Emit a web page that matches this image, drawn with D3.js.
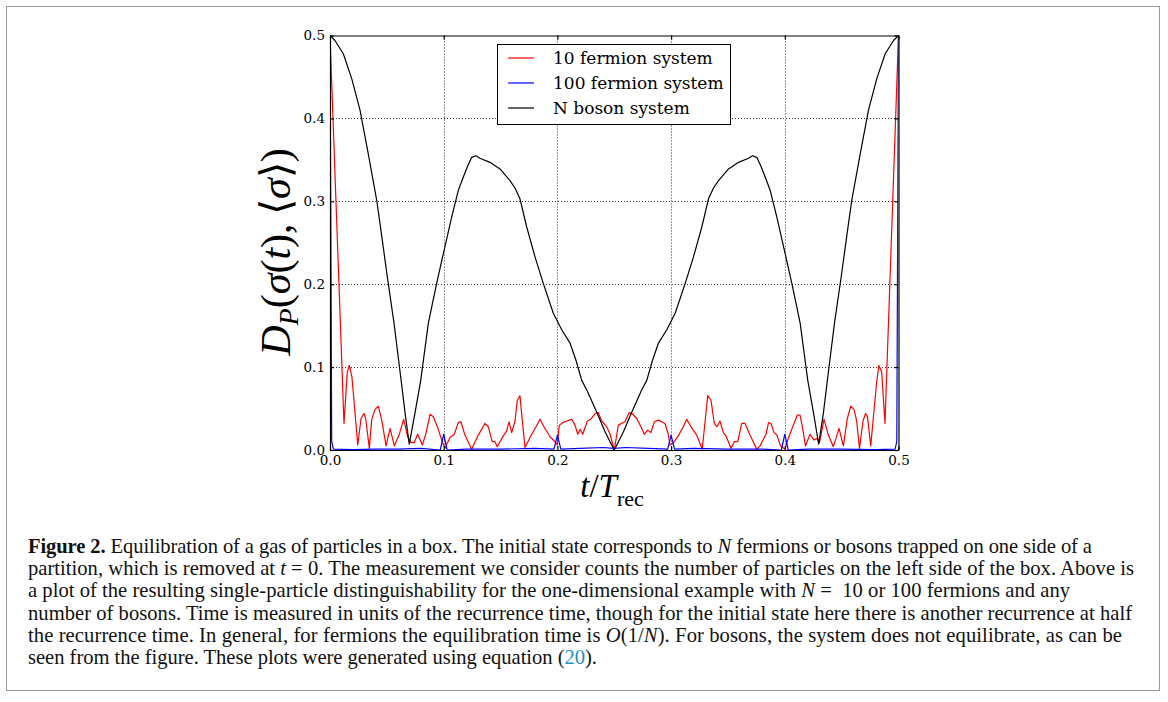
<!DOCTYPE html>
<html><head><meta charset="utf-8">
<script src="https://cdn.jsdelivr.net/npm/d3@7"></script>
<style>body{margin:0;background:#fff} svg{display:block}</style>
</head><body>
<svg id="c" width="1168" height="702"></svg>
<script>
// ---------------- data ----------------
const xTickValues = [0.0, 0.1, 0.2, 0.3, 0.4, 0.5];
const yTickValues = [0.0, 0.1, 0.2, 0.3, 0.4, 0.5];
const seriesNames = ["10 fermion system", "100 fermion system", "N boson system"];
const seriesColors = ["#ff0000", "#0000ff", "#000000"];

const fermion10T = [0,0.0123,0.0152,0.0170,0.0193,0.0244,0.0273,0.0299,0.0314,0.0346,0.0367,0.0396,0.0425,0.0455,0.0493,0.0528,0.0566,0.0607,0.0648,0.0683,0.0712,0.0741,0.0771,0.0812,0.0842,0.0880,0.0909,0.0947,0.0982,0.1011,0.1055,0.1093,0.1128,0.1152,0.1187,0.1246,0.1304,0.1363,0.1392,0.1427,0.1451,0.1471,0.1524,0.1554,0.1574,0.1598,0.1627,0.1647,0.1671,0.1686,0.1715,0.1774,0.1812,0.1847,0.1882,0.1935,0.1979,0.1999,0.2017,0.2047,0.2082,0.2126,0.2155,0.2179,0.2199,0.2223,0.2263,0.2293,0.2331,0.2360,0.2390,0.2434,0.2463,0.2500,
0.2536,0.2595,0.2630,0.2656,0.2697,0.2735,0.2764,0.2794,0.2823,0.2852,0.2887,0.2946,0.2975,0.2990,0.3017,0.3063,0.3107,0.3137,0.3175,0.3225,0.3274,0.3322,0.3351,0.3380,0.3404,0.3430,0.3459,0.3483,0.3527,0.3556,0.3586,0.3621,0.3650,0.3694,0.3753,0.3782,0.3835,0.3857,0.3879,0.3905,0.3931,0.3962,0.4002,0.4028,0.4075,0.4110,0.4134,0.4156,0.4182,0.4222,0.4257,0.4283,0.4305,0.4345,0.4383,0.4427,0.4477,0.4515,0.4550,0.4580,0.4609,0.4632,0.4657,0.4688,0.4710,0.4727,0.4756,0.4778,0.4808,0.4828,0.4852,0.4881,0.5000];
const fermion10D = [0.500,0.032,0.094,0.102,0.088,0.006,0.038,0.044,0.038,0.002,0.037,0.049,0.053,0.036,0.005,0.026,0.005,0.018,0.037,0.016,0.009,0.009,0.019,0.006,0.019,0.043,0.040,0.027,0.012,0.002,0.015,0.019,0.033,0.034,0.018,0.001,0.018,0.032,0.028,0.010,0.010,0.004,0.017,0.023,0.034,0.021,0.035,0.060,0.0655,0.043,0.003,0.019,0.028,0.037,0.028,0.016,0.010,0.006,0.030,0.033,0.035,0.037,0.030,0.019,0.025,0.019,0.035,0.037,0.044,0.045,0.035,0.028,0.019,0.000,
0.030,0.034,0.045,0.044,0.038,0.028,0.019,0.024,0.021,0.034,0.036,0.032,0.019,0.006,0.008,0.017,0.028,0.037,0.028,0.018,0.001,0.0655,0.060,0.032,0.028,0.035,0.021,0.017,0.002,0.010,0.010,0.032,0.032,0.018,0.001,0.005,0.019,0.033,0.032,0.021,0.018,0.005,0.001,0.013,0.030,0.042,0.042,0.027,0.005,0.019,0.012,0.014,0.009,0.037,0.018,0.004,0.026,0.005,0.038,0.053,0.049,0.035,0.002,0.035,0.044,0.040,0.005,0.038,0.082,0.102,0.094,0.032,0.500];

const fermion100T = [0,0.0015,0.003,0.02,0.04,0.06,0.08,0.097,0.1,0.103,0.12,0.15,0.18,0.197,0.2,0.203,0.22,0.24,0.25,0.26,0.28,0.297,0.3,0.303,0.32,0.35,0.38,0.397,0.4,0.403,0.42,0.45,0.48,0.497,0.4985,0.5];
const fermion100D = [0.5,0.01,0.001,0.0005,0.001,0.001,0.002,0.0,0.019,0.0,0.001,0.001,0.002,0.001,0.018,0.001,0.002,0.003,0.002,0.003,0.002,0.001,0.018,0.001,0.002,0.001,0.001,0.0,0.019,0.0,0.001,0.001,0.0005,0.001,0.01,0.5];

const bosonT = [0,0.0044,0.0117,0.0191,0.0264,0.0337,0.0411,0.0440,0.0504,0.0563,0.0622,0.0660,0.0697,0.0748,0.0798,0.0865,0.0938,0.0997,0.1070,0.1128,0.1172,0.1209,0.1246,0.1284,0.1319,0.1407,0.1495,0.1583,0.1627,0.1671,0.1730,0.1803,0.1876,0.1964,0.2038,0.2111,0.2164,0.2214,0.2260,0.2348,0.2419,0.2463,0.2500,
0.2537,0.2581,0.2652,0.2740,0.2786,0.2836,0.2889,0.2962,0.3036,0.3124,0.3197,0.3270,0.3329,0.3373,0.3417,0.3505,0.3593,0.3681,0.3716,0.3754,0.3791,0.3828,0.3872,0.3930,0.4003,0.4062,0.4135,0.4202,0.4252,0.4298,0.4340,0.4378,0.4437,0.4496,0.4560,0.4589,0.4663,0.4736,0.4809,0.4883,0.4956,0.5000];
const bosonD = [0.500,0.494,0.478,0.448,0.410,0.357,0.301,0.273,0.209,0.153,0.088,0.045,0.007,0.045,0.084,0.153,0.201,0.237,0.281,0.313,0.329,0.342,0.353,0.355,0.352,0.347,0.339,0.325,0.316,0.303,0.269,0.233,0.201,0.165,0.145,0.129,0.108,0.084,0.072,0.045,0.022,0.010,0.000,
0.010,0.022,0.045,0.072,0.084,0.108,0.129,0.145,0.165,0.201,0.233,0.269,0.303,0.316,0.325,0.339,0.347,0.352,0.355,0.353,0.342,0.329,0.313,0.281,0.237,0.201,0.153,0.084,0.045,0.007,0.045,0.088,0.153,0.209,0.273,0.301,0.357,0.410,0.448,0.478,0.494,0.500];

const captionLines = [
  [["b","Figure 2."],["n"," Equilibration of a gas of particles in a box. The initial state corresponds to "],["i","N"],["n"," fermions or bosons trapped on one side of a"]],
  [["n","partition, which is removed at "],["i","t"],["n"," = 0. The measurement we consider counts the number of particles on the left side of the box. Above is"]],
  [["n","a plot of the resulting single-particle distinguishability for the one-dimensional example with "],["i","N"],["n"," =  10 or 100 fermions and any"]],
  [["n","number of bosons. Time is measured in units of the recurrence time, though for the initial state here there is another recurrence at half"]],
  [["n","the recurrence time. In general, for fermions the equilibration time is "],["i","O"],["n","(1/"],["i","N"],["n","). For bosons, the system does not equilibrate, as can be"]],
  [["n","seen from the figure. These plots were generated using equation ("],["c","20"],["n",")."]]
];
const captionEnds = [1092, 1134, 1070, 1132, 1122, 597];

// ---------------- drawing ----------------
const svg = d3.select("#c");
const L = 330, R = 898.5, T = 35.5, B = 450;
const x = d3.scaleLinear().domain([0, 0.5]).range([L, R]);
const y = d3.scaleLinear().domain([0, 0.5]).range([B, T]);

// outer box
svg.append("rect").attr("x", 6.5).attr("y", 6.5).attr("width", 1153).attr("height", 684)
  .attr("fill", "none").attr("stroke", "#9a9a9a").attr("stroke-width", 1);

// grid
const g = svg.append("g");
g.selectAll(".vg").data(xTickValues.slice(1, -1)).enter().append("line")
  .attr("x1", d => Math.round(x(d)) + 0.5).attr("x2", d => Math.round(x(d)) + 0.5)
  .attr("y1", T).attr("y2", B)
  .attr("stroke", "#333").attr("stroke-width", 1).attr("stroke-dasharray", "1,2");
g.selectAll(".hg").data(yTickValues.slice(1, -1)).enter().append("line")
  .attr("y1", d => Math.round(y(d)) + 0.5).attr("y2", d => Math.round(y(d)) + 0.5)
  .attr("x1", L).attr("x2", R)
  .attr("stroke", "#333").attr("stroke-width", 1).attr("stroke-dasharray", "1,2");

// lines
svg.append("clipPath").attr("id", "clip").append("rect")
  .attr("x", L).attr("y", T - 2).attr("width", R - L).attr("height", B - T + 2);
const series = [
  {t: fermion10T, d: fermion10D},
  {t: fermion100T, d: fermion100D},
  {t: bosonT, d: bosonD}
];
const line = d3.line().x(p => x(p[0])).y(p => y(p[1]));
series.forEach((s, i) => {
  svg.append("path").attr("clip-path", "url(#clip)")
    .attr("d", line(s.t.map((t, k) => [t, s.d[k]])))
    .attr("fill", "none").attr("stroke", seriesColors[i]).attr("stroke-width", 1.2)
    .attr("stroke-linejoin", "round");
});

// axes (ticks inside, all four sides)
const tickFont = "DejaVu Serif";
const xb = svg.append("g").attr("transform", `translate(0,${B})`)
  .call(d3.axisBottom(x).tickValues(xTickValues).tickFormat(d3.format(".1f")).tickSizeInner(-4).tickSizeOuter(0).tickPadding(5));
const xt = svg.append("g").attr("transform", `translate(0,${T})`)
  .call(d3.axisTop(x).tickValues(xTickValues).tickFormat("").tickSizeInner(-4).tickSizeOuter(0));
const yl = svg.append("g").attr("transform", `translate(${L},0)`)
  .call(d3.axisLeft(y).tickValues(yTickValues).tickFormat(d3.format(".1f")).tickSizeInner(-4).tickSizeOuter(0).tickPadding(5));
const yr = svg.append("g").attr("transform", `translate(${R},0)`)
  .call(d3.axisRight(y).tickValues(yTickValues).tickFormat("").tickSizeInner(-4).tickSizeOuter(0));
[xb, xt, yl, yr].forEach(a => {
  a.select(".domain").attr("stroke", "#000").attr("stroke-width", 1.2);
  a.selectAll(".tick line").attr("stroke", "#000").attr("stroke-width", 1.2);
  a.selectAll("text").attr("font-family", tickFont).attr("font-size", 13.5).attr("fill", "#000");
});
xb.selectAll("text").attr("dy", "0.71em");

// legend
const lg = svg.append("g");
lg.append("rect").attr("x", 497.5).attr("y", 44.5).attr("width", 233).attr("height", 80)
  .attr("fill", "#fff").attr("stroke", "#000").attr("stroke-width", 1);
seriesNames.forEach((n, i) => {
  const yy = 58 + i * 25;
  lg.append("line").attr("x1", 508).attr("x2", 534).attr("y1", yy).attr("y2", yy)
    .attr("stroke", seriesColors[i]).attr("stroke-width", 1.2);
  lg.append("text").attr("x", 553).attr("y", yy).attr("dy", "0.35em")
    .attr("font-family", "DejaVu Serif").attr("font-size", 17).text(n);
});

// axis labels
const mathFont = "Liberation Serif";
const xlab = svg.append("text").attr("x", 612).attr("y", 497).attr("text-anchor", "middle")
  .attr("font-family", mathFont).attr("font-size", 33);
xlab.append("tspan").attr("font-style", "italic").text("t");
xlab.append("tspan").text("/");
xlab.append("tspan").attr("font-style", "italic").text("T");
xlab.append("tspan").attr("font-size", 22).attr("dy", 9).text("rec");

const ylab = svg.append("text").attr("transform", "translate(290,252) rotate(-90)")
  .attr("text-anchor", "middle").attr("font-family", mathFont).attr("font-size", 42);
ylab.append("tspan").attr("font-style", "italic").text("D");
ylab.append("tspan").attr("font-style", "italic").attr("font-size", 28).attr("dy", 8).text("P");
ylab.append("tspan").attr("dy", -8).text("(");
ylab.append("tspan").attr("font-style", "italic").text("σ");
ylab.append("tspan").text("(");
ylab.append("tspan").attr("font-style", "italic").text("t");
ylab.append("tspan").text("),\u2009⟨");
ylab.append("tspan").attr("font-style", "italic").text("σ");
ylab.append("tspan").text("⟩)");

// caption
const capX = 28, capY0 = 553, capDY = 22.2;
const capTexts = [];
captionLines.forEach((ln, i) => {
  const t = svg.append("text").attr("x", capX).attr("y", capY0 + i * capDY)
    .attr("font-family", "Liberation Serif").attr("font-size", 18).attr("fill", "#111")
    .attr("xml:space", "preserve");
  ln.forEach(([k, s]) => {
    const ts = t.append("tspan").text(s);
    if (k === "b") ts.attr("font-weight", "bold");
    if (k === "i") ts.attr("font-style", "italic");
    if (k === "c") ts.attr("fill", "#1f8fc8");
  });
  capTexts.push(t);
});
// pick one common size so the natural widths fit the measured line ends
let ratio = 0;
capTexts.forEach((t, i) => { ratio += (captionEnds[i] - capX) / t.node().getComputedTextLength(); });
ratio /= capTexts.length;
capTexts.forEach((t, i) => {
  t.attr("font-size", 18 * ratio)
   .attr("textLength", captionEnds[i] - capX).attr("lengthAdjust", "spacing");
});
</script>
</body></html>
